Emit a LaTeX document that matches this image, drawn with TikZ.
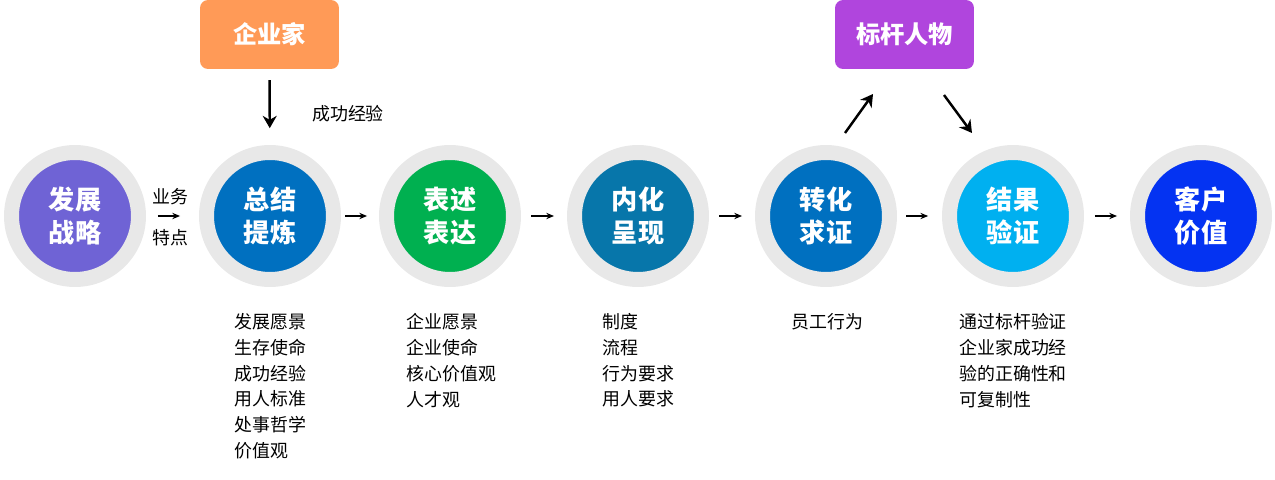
\documentclass[tikz,border=0pt]{standalone}
\usepackage{fontspec}
\setmainfont{Noto Sans CJK SC}
\usetikzlibrary{arrows.meta}
\definecolor{ringgray}{HTML}{E8E8E8}
\definecolor{cpurple}{HTML}{6F63D5}
\definecolor{cblue}{HTML}{0070C0}
\definecolor{cgreen}{HTML}{00B050}
\definecolor{cteal}{HTML}{0776AA}
\definecolor{csky}{HTML}{00B0F0}
\definecolor{croyal}{HTML}{0433F2}
\definecolor{corange}{HTML}{FF9A57}
\definecolor{cviolet}{HTML}{B045DD}
\tikzset{
  stage/.style={circle, draw=ringgray, line width=0.3cm, minimum size=2.54cm,
    inner sep=0pt, text=white, align=center,
    font=\bfseries\fontsize{14.9}{18.7}\selectfont},
  tag/.style={rounded corners=0.16cm, minimum width=2.78cm, minimum height=1.38cm,
    inner sep=0pt, text=white, font=\bfseries\fontsize{13.8}{16}\selectfont},
  note/.style={inner sep=0pt, align=left, font=\fontsize{10.2}{14.7}\selectfont},
  thin arrow/.style={line width=0.7pt, -{Stealth[length=4.4pt, width=3.6pt]}},
  bold arrow/.style={line width=1.4pt, -{Stealth[length=7pt, width=8pt]}},
}
\begin{document}
\begin{tikzpicture}[x=0.02cm, y=-0.02cm]
      \useasboundingbox (0,0) rectangle (1275,480);
      \draw
        (75,216) node[stage, fill=cpurple] (0){发展\\战略}
        (270,216) node[stage, fill=cblue] (1){总结\\提炼}
        (450,216) node[stage, fill=cgreen] (2){表述\\表达}
        (638,216) node[stage, fill=cteal] (3){内化\\呈现}
        (826,216) node[stage, fill=cblue] (4){转化\\求证}
        (1013,216) node[stage, fill=csky] (5){结果\\验证}
        (1201,216) node[stage, fill=croyal] (6){客户\\价值};
      \node[tag, fill=corange] (boss) at (269.5,34.5) {企业家};
      \node[tag, fill=cviolet] (model) at (904.5,34.5) {标杆人物};
      \node[note] (gain) at (348,114) {成功经验};
      \node[note] (biz) at (170,197) {业务};
      \node[note] (trait) at (170,238) {特点};
      \node[note, anchor=north west] (n1) at (234,313)
        {发展愿景\\生存使命\\成功经验\\用人标准\\处事哲学\\价值观};
      \node[note, anchor=north west] (n2) at (406,313)
        {企业愿景\\企业使命\\核心价值观\\人才观};
      \node[note, anchor=north west] (n3) at (602,313)
        {制度\\流程\\行为要求\\用人要求};
      \node[note, anchor=north west] (n4) at (791,313) {员工行为};
      \node[note, anchor=north west] (n5) at (959,313)
        {通过标杆验证\\企业家成功经\\验的正确性和\\可复制性};
      \coordinate (upA) at (845,133);
      \coordinate (upB) at (873,94);
      \coordinate (downA) at (944,95);
      \coordinate (downB) at (972,133);
      \begin{scope}[thin arrow]
        \draw[shorten <=6.8pt, shorten >=10.8pt] (0) to (1);
        \draw[shorten <=2.3pt, shorten >=6.8pt] (1) to (2);
        \draw[shorten <=5.7pt, shorten >=7.4pt] (2) to (3);
        \draw[shorten <=5.7pt, shorten >=7.4pt] (3) to (4);
        \draw[shorten <=5.2pt, shorten >=7.9pt] (4) to (5);
        \draw[shorten <=6.2pt, shorten >=7.4pt] (5) to (6);
      \end{scope}
      \begin{scope}[bold arrow]
        \draw[shorten <=6.2pt, shorten >=9.6pt] (boss) to (1);
        \draw (upA) to (upB);
        \draw (downA) to (downB);
      \end{scope}
    \end{tikzpicture}
\end{document}
